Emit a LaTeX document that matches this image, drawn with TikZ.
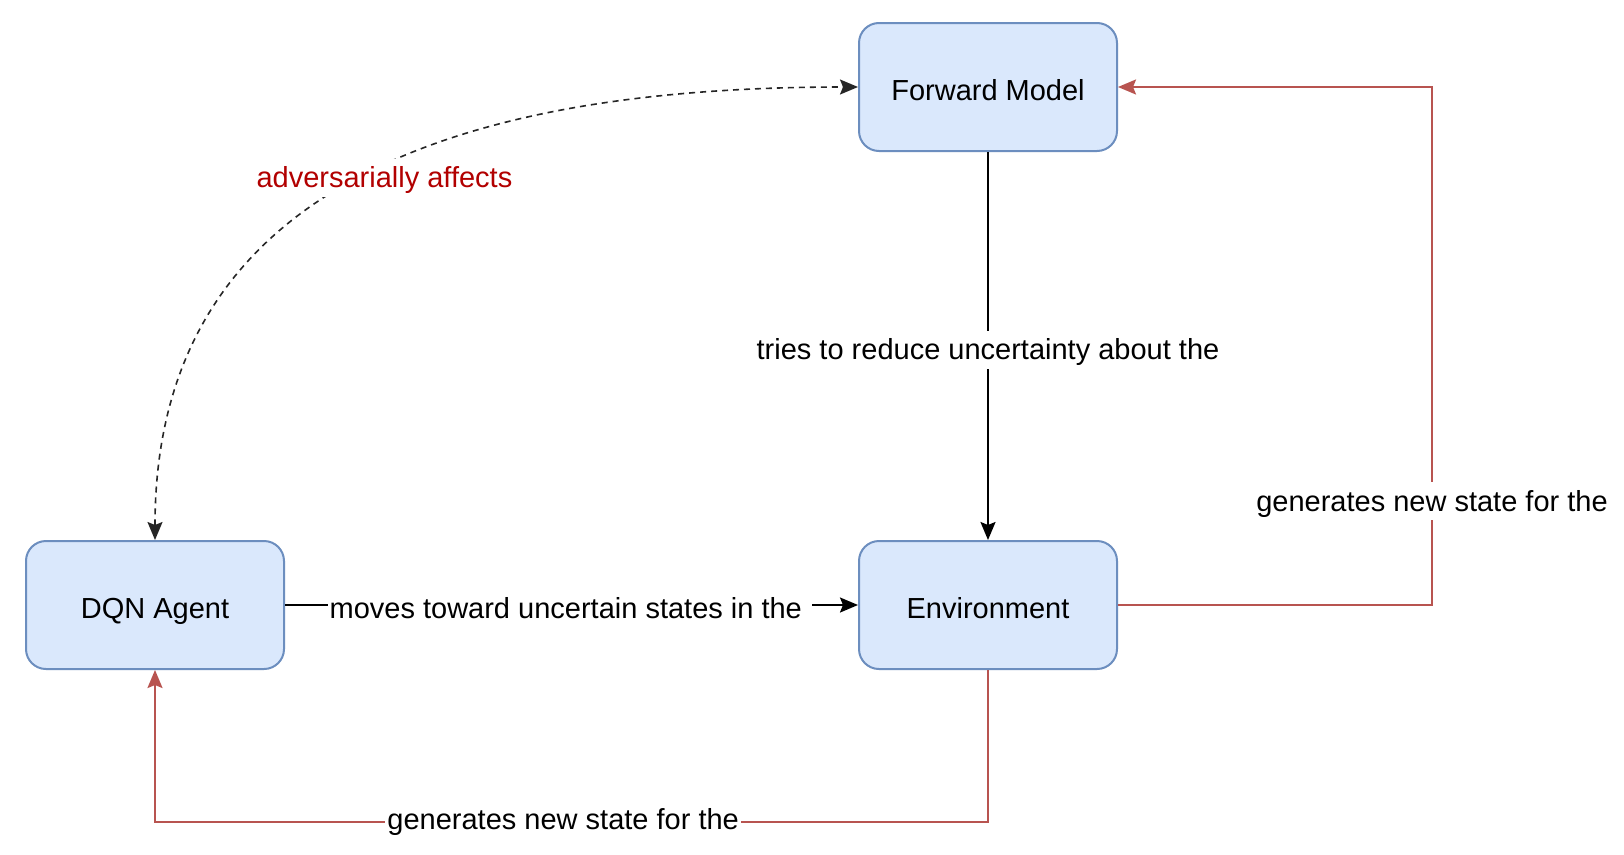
\documentclass[tikz,border=0pt]{standalone}
\usepackage{fontspec}
\setmainfont{Liberation Sans}
\usetikzlibrary{arrows.meta}
\definecolor{boxfill}{HTML}{DAE8FC}
\definecolor{boxline}{HTML}{6C8EBF}
\definecolor{redline}{HTML}{B85450}
\definecolor{redtext}{HTML}{B20000}
\begin{document}
\begin{tikzpicture}[x=1pt,y=-1pt,
  txt/.style={font=\fontsize{29pt}{34pt}\selectfont,text=black,text height=27pt,text depth=7pt},
  box/.style={txt,draw=boxline,fill=boxfill,line width=2pt,rounded corners=20pt,
    minimum width=258pt,minimum height=128pt,text height=30pt,text depth=4pt},
  lbl/.style={txt,fill=white,inner xsep=2pt,inner ysep=2pt},
  tip/.style={-{Stealth[length=18pt,width=15pt,inset=3pt]}},
  blk/.style={tip,draw=black,line width=2pt},
  redarr/.style={tip,draw=redline,line width=2pt},
  dsh/.style={{Stealth[length=18pt,width=15pt,inset=3pt]}-{Stealth[length=18pt,width=15pt,inset=3pt]},
    draw=black!85,line width=1.6pt,dash pattern=on 6pt off 5pt}
]
\useasboundingbox (0,0) rectangle (1624,854);
\fill[white] (0,0) rectangle (1624,854);

\node[box] (fm)  at (988,87)  {Forward Model};
\node[box] (dqn) at (155,605) {DQN Agent};
\node[box] (env) at (988,605) {Environment};

\draw[blk] (fm.south) -- node[lbl,pos=0.51] {tries to reduce uncertainty about the} (env.north);
\draw[blk] (dqn.east) -- node[lbl,pos=0.497,yshift=-3pt] {moves toward uncertain states in the\hspace*{8pt}} (env.west);
\draw[redarr] (env.east) -- ++(314,0) |- node[lbl,pos=0.1] {generates new state for the} (fm.east);
\draw[redarr] (env.south) -- ++(0,152) -| node[lbl,pos=0.255,yshift=3pt] {generates new state for the} (dqn.south);
\draw[dsh] (dqn.north) .. controls (155,180) and (470,87) .. node[lbl,text=redtext,pos=0.53,yshift=-11pt] {adversarially affects} (fm.west);
\end{tikzpicture}
\end{document}
